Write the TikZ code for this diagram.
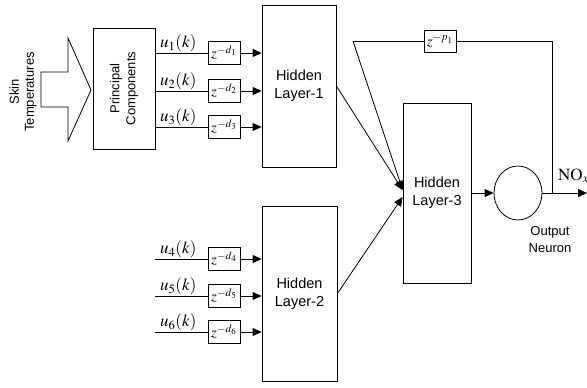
\documentclass[tikz,border=0pt]{standalone}
\usepackage{mathptmx}
\usepackage[no-math]{fontspec}
\setmainfont{Liberation Sans}
\usepackage{tikz}
\usetikzlibrary{arrows.meta,shapes.geometric,positioning}
\tikzset{
	block/.style={draw, line width=0.8pt, inner sep=0pt, align=center, font=\fontsize{14.5}{18}\selectfont},
	smallblock/.style={block, font=\fontsize{13}{16}\selectfont},
	delaybox/.style={draw, line width=0.8pt, minimum width=32pt, minimum height=23pt, inner sep=0pt, font=\fontsize{15}{15}\selectfont},
	ulabel/.style={anchor=south west, inner sep=1pt, font=\fontsize{17}{17}\selectfont},
	wire/.style={line width=0.8pt},
	arr/.style={wire, -{Triangle[length=9pt,width=8pt]}}
}
\newcommand{\delayterm}[1]{$z^{-#1}$}
\begin{document}
\begin{tikzpicture}[x=1pt,y=-1pt]
	\useasboundingbox (0,0) rectangle (587,388);

	\draw[wire] (41,72) -- (68,72) -- (68,38) -- (91,90) -- (68,141) -- (68,107) -- (41,107) -- cycle;
	\node[rotate=90, align=center, font=\fontsize{13}{15}\selectfont] (skin) at (23,92) {Skin\\Temperatures};

	\node[smallblock, rotate=90, minimum width=121pt, minimum height=62pt] (pca) at (124,88.5) {Principal\\Components};

	\node[block, minimum width=74pt, minimum height=162pt] (hl1) at (299,86) {Hidden\\Layer-1};
	\node[block, minimum width=75pt, minimum height=175pt] (hl2) at (299.5,293.5) {Hidden\\Layer-2};
	\node[block, minimum width=68pt, minimum height=180pt] (hl3) at (437,193) {Hidden\\Layer-3};
	\node[draw, ellipse, line width=0.8pt, minimum width=48pt, minimum height=54pt, inner sep=0pt] (neuron) at (518,193) {};
	\node[align=center, font=\fontsize{13}{17}\selectfont] (neuronlabel) at (550,240) {Output\\Neuron};

	\foreach \k/\y in {1/53,2/91,3/127}{
		\coordinate (u\k) at (155,\y);
		\node[delaybox] (d\k) at (224,\y) {\delayterm{d_\k}};
		\node[ulabel] (lu\k) at ([xshift=4pt]u\k) {$u_\k(k)$};
		\draw[wire] (u\k) -- (d\k);
		\draw[arr] (d\k) -- (d\k -| hl1.west);
	}
	\foreach \k/\y in {4/259,5/296,6/332}{
		\coordinate (u\k) at (155,\y);
		\node[delaybox] (d\k) at (224,\y) {\delayterm{d_\k}};
		\node[ulabel] (lu\k) at ([xshift=4pt]u\k) {$u_\k(k)$};
		\draw[wire] (u\k) -- (d\k);
		\draw[arr] (d\k) -- (d\k -| hl2.west);
	}

	\coordinate (fb) at (552,193);
	\coordinate (fbtop) at (552,41);
	\coordinate (fbleft) at (353,41);
	\coordinate (out) at (587,193);
	\node[delaybox, minimum height=22pt] (dp) at (440,41) {\delayterm{p_1}};

	\draw[arr] (hl1.east) -- ([yshift=3pt]hl3.west);
	\draw[arr] (hl2.east) -- ([yshift=-4pt]hl3.west);
	\draw[wire] (fb) -- (fbtop) -- (dp);
	\draw[wire] (dp) -- (fbleft);
	\draw[arr] (fbleft) -- ([yshift=3pt]hl3.west);
	\draw[arr] (hl3) -- (neuron);
	\draw[arr] (neuron) -- (out);
	\node[anchor=south west, inner sep=1pt, font=\fontsize{17}{17}\selectfont] (nox) at (557,184) {$\mathrm{NO}_x$};
\end{tikzpicture}
\end{document}
